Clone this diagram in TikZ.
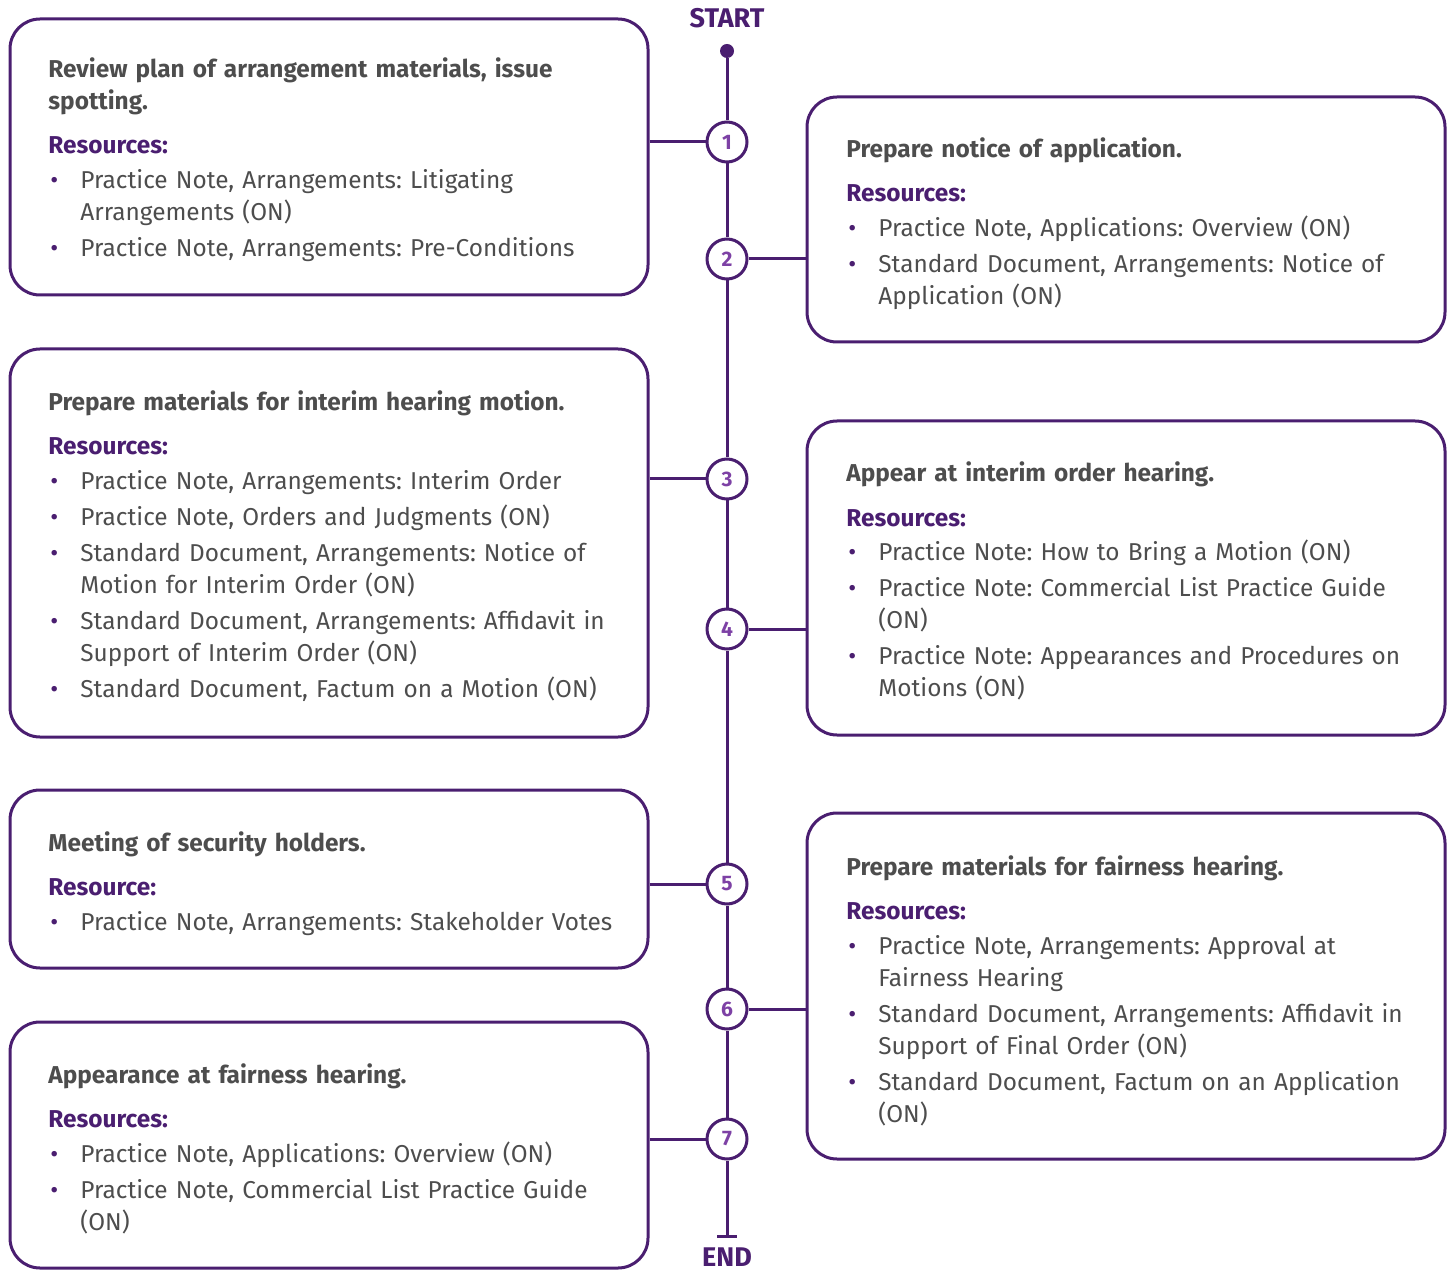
\documentclass[tikz,border=0pt]{standalone}
\usepackage{fontspec}
\setmainfont{Fira Sans}
\usetikzlibrary{positioning}

\definecolor{tlpurple}{RGB}{74,30,112}
\definecolor{numpurple}{RGB}{125,65,165}
\definecolor{txtgray}{RGB}{77,77,77}

\frenchspacing
\newcommand\cardtitle[1]{{\bfseries #1}\par\vspace{6pt}}
\newcommand\reshead[1]{{\bfseries\color{tlpurple}#1}\par\vspace{1.5pt}}
\newcommand\resitem[1]{\hangindent=16pt\hangafter=1\noindent\makebox[16pt][l]{\hspace{1pt}\textcolor{tlpurple}{\textbullet}}#1\par\vspace{2pt}}

\tikzset{
  stepcard/.style={draw=tlpurple, line width=1.5pt, rounded corners=15pt, minimum width=319pt, inner sep=0},
  cardtext/.style={anchor=base west, inner sep=0, text width=300pt, align=left, text=txtgray, font=\fontsize{12.2}{16}\selectfont\frenchspacing},
  stepnum/.style={circle, draw=tlpurple, line width=1.5pt, fill=white, minimum size=20pt, inner sep=0, text=numpurple, font=\bfseries\fontsize{10.5}{10.5}\selectfont},
  link/.style={draw=tlpurple, line width=1.5pt},
  endlabel/.style={text=tlpurple, font=\bfseries\fontsize{13.5}{13.5}\selectfont, inner sep=0}
}

\begin{document}
\begin{tikzpicture}[x=0.5pt, y=-0.5pt]
  \useasboundingbox (0,0) rectangle (1450,1272);

  % timeline
  \node[circle, fill=tlpurple, minimum size=7pt, inner sep=0] (start) at (727,51) {};
  \node[endlabel, above=7.5pt of start] (startlabel) {START};
  \node[stepnum] (num1) at (727,142) {1};
  \node[stepnum] (num2) at (727,259) {2};
  \node[stepnum] (num3) at (727,479) {3};
  \node[stepnum] (num4) at (727,629) {4};
  \node[stepnum] (num5) at (727,884) {5};
  \node[stepnum] (num6) at (727,1009) {6};
  \node[stepnum] (num7) at (727,1139) {7};
  \coordinate (endpt) at (727,1236);
  \node[endlabel, below=5.5pt of endpt] (endlabel) {END};

  \draw[link] (start) -- (num1) -- (num2) -- (num3) -- (num4) -- (num5) -- (num6) -- (num7) -- (endpt);
  \draw[link] ([xshift=-5pt]endpt) -- ([xshift=5pt]endpt);

  % left cards
  \node[stepcard, minimum height=138pt] (card1) at (329,157) {};
  \node[cardtext] (text1) at (48,78) {
    \cardtitle{Review plan of arrangement materials, issue\newline spotting.}
    \reshead{Resources:}
    \resitem{Practice Note, Arrangements: Litigating\newline Arrangements (ON)}
    \resitem{Practice Note, Arrangements: Pre-Conditions}};

  \node[stepcard, minimum height=194pt] (card3) at (329,543) {};
  \node[cardtext] (text3) at (48,411) {
    \cardtitle{Prepare materials for interim hearing motion.}
    \reshead{Resources:}
    \resitem{Practice Note, Arrangements: Interim Order}
    \resitem{Practice Note, Orders and Judgments (ON)}
    \resitem{Standard Document, Arrangements: Notice of\newline Motion for Interim Order (ON)}
    \resitem{Standard Document, Arrangements: Affidavit in\newline Support of Interim Order (ON)}
    \resitem{Standard Document, Factum on a Motion (ON)}};

  \node[stepcard, minimum height=89pt] (card5) at (329,879) {};
  \node[cardtext] (text5) at (48,851) {
    \cardtitle{Meeting of security holders.}
    \reshead{Resource:}
    \resitem{Practice Note, Arrangements: Stakeholder Votes}};

  \node[stepcard, minimum height=123pt] (card7) at (329,1145) {};
  \node[cardtext] (text7) at (48,1083) {
    \cardtitle{Appearance at fairness hearing.}
    \reshead{Resources:}
    \resitem{Practice Note, Applications: Overview (ON)}
    \resitem{Practice Note, Commercial List Practice Guide\newline (ON)}};

  % right cards
  \node[stepcard, minimum height=122.5pt] (card2) at (1126,219.5) {};
  \node[cardtext] (text2) at (846,158) {
    \cardtitle{Prepare notice of application.}
    \reshead{Resources:}
    \resitem{Practice Note, Applications: Overview (ON)}
    \resitem{Standard Document, Arrangements: Notice of\newline Application (ON)}};

  \node[stepcard, minimum height=157pt] (card4) at (1126,578) {};
  \node[cardtext] (text4) at (846,482) {
    \cardtitle{Appear at interim order hearing.}
    \reshead{Resources:}
    \resitem{Practice Note: How to Bring a Motion (ON)}
    \resitem{Practice Note: Commercial List Practice Guide\newline (ON)}
    \resitem{Practice Note: Appearances and Procedures on\newline Motions (ON)}};

  \node[stepcard, minimum height=173pt] (card6) at (1126,986) {};
  \node[cardtext] (text6) at (846,875) {
    \cardtitle{Prepare materials for fairness hearing.}
    \reshead{Resources:}
    \resitem{Practice Note, Arrangements: Approval at\newline Fairness Hearing}
    \resitem{Standard Document, Arrangements: Affidavit in\newline Support of Final Order (ON)}
    \resitem{Standard Document, Factum on an Application\newline (ON)}};

  % connectors
  \draw[link] (card1.east |- num1) -- (num1);
  \draw[link] (card3.east |- num3) -- (num3);
  \draw[link] (card5.east |- num5) -- (num5);
  \draw[link] (card7.east |- num7) -- (num7);
  \draw[link] (num2) -- (card2.west |- num2);
  \draw[link] (num4) -- (card4.west |- num4);
  \draw[link] (num6) -- (card6.west |- num6);
\end{tikzpicture}
\end{document}
